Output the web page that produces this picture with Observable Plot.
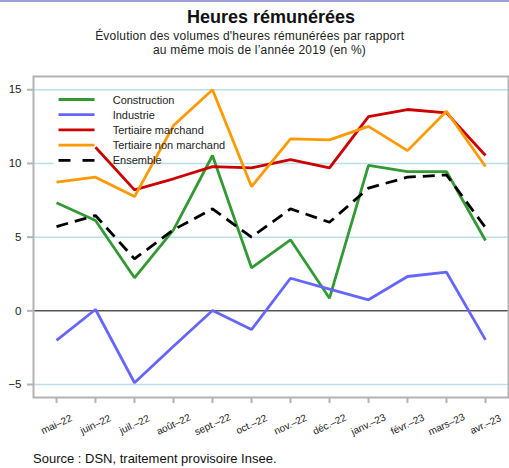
<!DOCTYPE html>
<html><head><meta charset="utf-8">
<script src="https://cdn.jsdelivr.net/npm/d3@7"></script>
<script src="https://cdn.jsdelivr.net/npm/@observablehq/plot@0.6"></script>
<style>
body{margin:0;background:#fff;}
#wrap{position:relative;width:509px;height:468px;font-family:"Liberation Sans",Arial,sans-serif;color:#111;overflow:hidden;}
.t{position:absolute;white-space:nowrap;transform:translateX(-50%);}
#topbar{position:absolute;left:0;top:0;width:509px;height:2px;background:#a0a0d8;}
#title{left:271px;top:6.8px;font-size:18px;font-weight:bold;color:#111;}
#sub1{left:249.7px;top:30px;font-size:12px;letter-spacing:0.2px;line-height:12px;color:#222;}
#sub2{left:259.5px;top:43.6px;font-size:12px;letter-spacing:0.2px;line-height:12px;color:#222;}
#chart{position:absolute;left:0;top:70px;}
#source{position:absolute;left:33px;top:451px;font-size:13px;color:#111;white-space:nowrap;}
#legend{position:absolute;left:0;top:0;pointer-events:none;}
</style>
</head><body>
<div id="wrap">
  <div id="topbar"></div>
  <div id="title" class="t">Heures rémunérées</div>
  <div id="sub1" class="t">Évolution des volumes d'heures rémunérées par rapport</div>
  <div id="sub2" class="t">au même mois de l’année 2019 (en %)</div>
  <div id="chart"></div>
  <div id="source">Source : DSN, traitement provisoire Insee.</div>
</div>
<script>
const months = ["mai–22","juin–22","juil.–22","août–22","sept.–22","oct.–22","nov.–22","déc.–22","janv.–23","févr.–23","mars–23","avr.–23"];
const construction = [7.33,6.13,2.24,5.5,10.54,2.92,4.82,0.86,9.87,9.45,9.45,4.77];
const industrie = [-2.01,0.09,-4.88,-2.4,0.02,-1.27,2.21,1.47,0.75,2.33,2.62,-1.97];
const tertiaireMarchand = [null,11.1,8.21,8.96,9.79,9.70,10.26,9.70,13.18,13.66,13.43,10.54];
const tertiaireNonMarchand = [8.73,9.07,7.75,12.57,15.0,8.43,11.67,11.6,12.52,10.87,13.54,9.79];
const ensemble = [5.72,6.47,3.53,5.5,6.92,5.0,6.92,6.01,8.33,9.07,9.22,5.65];

const seriesNames = ["Construction","Industrie","Tertiaire marchand","Tertiaire non marchand","Ensemble"];
const seriesColors = ["#339933","#6666ff","#cc0000","#ff9900","#000000"];
const seriesDash = [null,null,null,null,"12,7"];
const seriesValues = [construction,industrie,tertiaireMarchand,tertiaireNonMarchand,ensemble];

const yTicks = [-5,0,5,10,15];
const gridValues = [-5,5,10,15];
const axisGray = "#b3b3b3";

const lineMarks = seriesValues.map((vals,k) =>
  Plot.line(months.map((m,i)=>({month:m, value:vals[i]})), {
    x:"month", y:"value", stroke:seriesColors[k], strokeWidth:2.8,
    strokeLinejoin:"miter", strokeLinecap:"butt",
    strokeDasharray: seriesDash[k] || undefined
  })
);

const chart = Plot.plot({
  width:509, height:375, marginTop:6, marginBottom:48, marginLeft:33, marginRight:1,
  style:{fontFamily:"Liberation Sans, Arial, sans-serif", background:"transparent", overflow:"visible"},
  x:{type:"point", domain:months, padding:0.545},
  y:{domain:[-5.88,15.9]},
  marks:[
    Plot.ruleY(gridValues,{stroke:"#b9e0ea", strokeWidth:1.5}),
    Plot.ruleY([0],{stroke:"#000", strokeWidth:1}),
    Plot.frame({fill:"white", stroke:"none", insetLeft:20, insetTop:16, insetRight:396, insetBottom:230}),
    ...lineMarks,
    Plot.frame({stroke:axisGray, strokeWidth:2}),
    Plot.axisY({ticks:yTicks, tickSize:6, tickPadding:6, stroke:axisGray, strokeWidth:2, fill:"#222", fontSize:11.5, label:null,
      tickFormat: d => d < 0 ? "\u2212" + Math.abs(d) : String(d)}),
    Plot.axisX({tickSize:6, stroke:axisGray, strokeWidth:2, fill:"#222", fontSize:10, tickRotate:-25,
      textAnchor:"middle", lineAnchor:"middle", tickPadding:21, label:null})
  ]
});
document.getElementById("chart").appendChild(chart);

// legend overlay
const ns = "http://www.w3.org/2000/svg";
const lg = document.createElementNS(ns,"svg");
lg.setAttribute("id","legend");
lg.setAttribute("width","509"); lg.setAttribute("height","468");
seriesNames.forEach((name,k)=>{
  const yy = 99.5 + 15.2*k;
  const ln = document.createElementNS(ns,"line");
  ln.setAttribute("x1","58.5"); ln.setAttribute("x2","94.5");
  ln.setAttribute("y1",yy); ln.setAttribute("y2",yy);
  ln.setAttribute("stroke",seriesColors[k]); ln.setAttribute("stroke-width","2.8");
  if (seriesDash[k]) ln.setAttribute("stroke-dasharray","12,12");
  lg.appendChild(ln);
  const tx = document.createElementNS(ns,"text");
  tx.setAttribute("x","112.7"); tx.setAttribute("y",yy+4);
  tx.setAttribute("font-size","11"); tx.setAttribute("fill","#222");
  tx.setAttribute("font-family","Liberation Sans, Arial, sans-serif");
  tx.textContent = name;
  lg.appendChild(tx);
});
document.getElementById("wrap").appendChild(lg);
</script>
</body></html>
